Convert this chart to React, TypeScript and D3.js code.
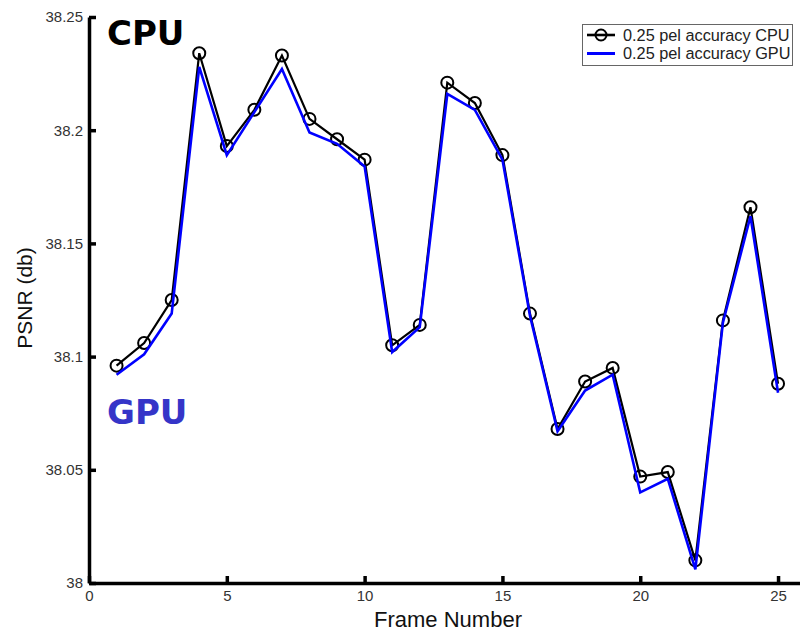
import React, { useRef, useEffect } from 'react';
import * as d3 from 'd3';

// Frame numbers 1..25
const frames = [1, 2, 3, 4, 5, 6, 7, 8, 9, 10, 11, 12, 13, 14, 15, 16, 17, 18, 19, 20, 21, 22, 23, 24, 25];

// PSNR values
const cpuPsnr = [
  38.096, 38.106, 38.125, 38.234, 38.193, 38.209, 38.233, 38.205, 38.196, 38.187,
  38.105, 38.114, 38.221, 38.212, 38.189, 38.119, 38.068, 38.089, 38.095, 38.047,
  38.049, 38.010, 38.116, 38.166, 38.088,
];
const gpuPsnr = [
  38.092, 38.101, 38.119, 38.228, 38.189, 38.208, 38.227, 38.199, 38.194, 38.184,
  38.102, 38.113, 38.216, 38.209, 38.187, 38.118, 38.067, 38.085, 38.092, 38.040,
  38.046, 38.006, 38.115, 38.162, 38.084,
];

const xTicks = [0, 5, 10, 15, 20, 25];
const yTicks = [38, 38.05, 38.1, 38.15, 38.2, 38.25];
const legendLabels = ['0.25 pel accuracy CPU', '0.25 pel accuracy GPU'];

const FONT = '"Liberation Sans", Arial, sans-serif';

const PsnrChart = ({ width = 800, height = 631 }) => {
  const svgRef = useRef<SVGSVGElement>(null);

  useEffect(() => {
    const svg = d3.select(svgRef.current)
      .attr('width', width)
      .attr('height', height);

    svg.selectAll('*').remove();

    const xScale = d3.scaleLinear().domain([0, 26]).range([89, 805.6]);
    const yScale = d3.scaleLinear().domain([38, 38.25]).range([583, 17]);

    svg.append('rect').attr('width', width).attr('height', height).attr('fill', '#fff');

    // axes, ticks pointing inward
    const xAxis = d3.axisBottom(xScale)
      .tickValues(xTicks)
      .tickFormat(d3.format('d'))
      .tickSizeInner(-7)
      .tickSizeOuter(0)
      .tickPadding(7);

    const gx = svg.append('g')
      .attr('transform', `translate(0, ${yScale(38)})`)
      .call(xAxis);

    const yAxis = d3.axisLeft(yScale)
      .tickValues(yTicks)
      .tickFormat(d => String(+d))
      .tickSizeInner(-7)
      .tickSizeOuter(0)
      .tickPadding(6);

    const gy = svg.append('g')
      .attr('transform', `translate(${xScale(0)}, 0)`)
      .call(yAxis);

    [gx, gy].forEach(g => {
      g.select('.domain').attr('stroke', '#000').attr('stroke-width', 3.5);
      g.selectAll('.tick line').attr('stroke', '#000').attr('stroke-width', 3.5);
      g.selectAll('.tick text')
        .attr('fill', '#333')
        .style('font-family', FONT)
        .style('font-size', '15px');
    });

    // axis titles
    svg.append('text')
      .attr('x', 448)
      .attr('y', 627)
      .attr('text-anchor', 'middle')
      .attr('fill', '#111')
      .style('font-family', FONT)
      .style('font-size', '22px')
      .text('Frame Number');

    svg.append('text')
      .attr('transform', 'translate(32, 298) rotate(-90)')
      .attr('text-anchor', 'middle')
      .attr('fill', '#111')
      .style('font-family', FONT)
      .style('font-size', '21px')
      .text('PSNR (db)');

    const line = d3.line<number>()
      .x((d, i) => xScale(frames[i]))
      .y(d => yScale(d));

    // CPU series with circle markers
    svg.append('path')
      .datum(cpuPsnr)
      .attr('d', line)
      .attr('fill', 'none')
      .attr('stroke', '#000')
      .attr('stroke-width', 2.2);

    svg.selectAll('.dot')
      .data(cpuPsnr)
      .enter()
      .append('circle')
      .attr('class', 'dot')
      .attr('cx', (d, i) => xScale(frames[i]))
      .attr('cy', d => yScale(d))
      .attr('r', 6)
      .attr('fill', 'none')
      .attr('stroke', '#000')
      .attr('stroke-width', 2);

    // GPU series
    svg.append('path')
      .datum(gpuPsnr)
      .attr('d', line)
      .attr('fill', 'none')
      .attr('stroke', '#0000ff')
      .attr('stroke-width', 2.6);

    // big CPU / GPU annotations
    svg.append('text')
      .attr('x', 107)
      .attr('y', 45)
      .attr('fill', '#000')
      .style('font-family', '"DejaVu Sans", Verdana, sans-serif')
      .style('font-weight', 'bold')
      .style('font-size', '34px')
      .text('CPU');

    svg.append('text')
      .attr('x', 107)
      .attr('y', 424)
      .attr('fill', '#3535c8')
      .style('font-family', '"DejaVu Sans", Verdana, sans-serif')
      .style('font-weight', 'bold')
      .style('font-size', '34px')
      .text('GPU');

    // legend
    const legend = svg.append('g');
    legend.append('rect')
      .attr('x', 582.5)
      .attr('y', 24.5)
      .attr('width', 210)
      .attr('height', 41)
      .attr('fill', '#fff')
      .attr('stroke', '#666')
      .attr('stroke-width', 1);

    const legendColors = ['#000', '#0000ff'];
    legendLabels.forEach((label, i) => {
      const y = 35 + i * 18.5;
      legend.append('line')
        .attr('x1', 587).attr('x2', 615)
        .attr('y1', y).attr('y2', y)
        .attr('stroke', legendColors[i])
        .attr('stroke-width', i === 0 ? 2.6 : 3);
      if (i === 0) {
        legend.append('circle')
          .attr('cx', 601).attr('cy', y).attr('r', 5.5)
          .attr('fill', 'none').attr('stroke', '#000').attr('stroke-width', 2);
      }
      legend.append('text')
        .attr('x', 623)
        .attr('y', y + 5.5)
        .attr('fill', '#222')
        .style('font-family', FONT)
        .style('font-size', '16.3px')
        .text(label);
    });
  }, [width, height]);

  return (
    <svg ref={svgRef} style={{ position: 'absolute', left: 0, top: 0, display: 'block' }}></svg>
  );
};

export default function App() {
  return <PsnrChart />;
}
